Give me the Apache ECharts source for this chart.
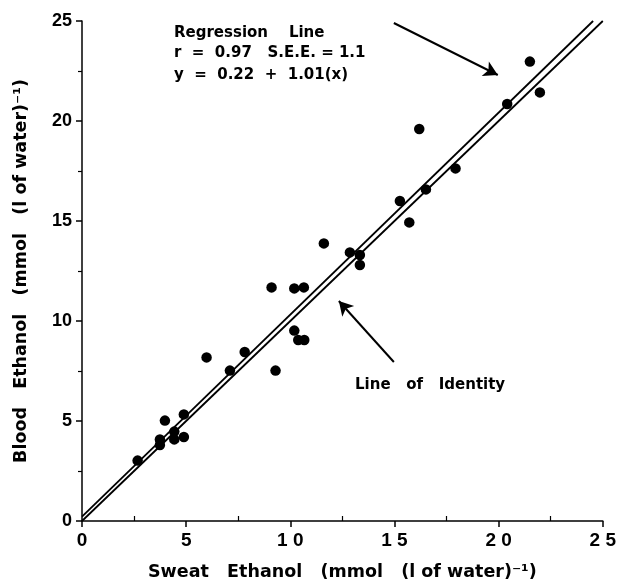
<!DOCTYPE html>
<html>
<head>
<meta charset="utf-8">
<script src="https://cdn.jsdelivr.net/npm/echarts@6/dist/echarts.min.js"></script>
<style>html,body{margin:0;padding:0;background:#fff;}#c{width:619px;height:588px;}</style>
</head>
<body>
<div id="c"></div>
<script>
// Sweat ethanol (x) and blood ethanol (y), mmol (l of water)^-1
const sweatEthanol = [2.67, 3.98, 3.74, 3.74, 4.43, 4.43, 4.89, 4.89, 5.98, 7.10, 7.81, 9.29,
  9.10, 10.19, 10.65, 10.19, 10.38, 10.67, 11.61, 12.86, 13.34, 13.34,
  15.26, 15.71, 16.51, 16.19, 17.93, 20.41, 21.50, 21.98];
const bloodEthanol = [3.02, 5.02, 4.08, 3.80, 4.47, 4.08, 4.20, 5.33, 8.18, 7.52, 8.45, 7.52,
  11.68, 11.63, 11.68, 9.52, 9.05, 9.05, 13.88, 13.43, 13.30, 12.80,
  16.00, 14.93, 16.58, 19.60, 17.63, 20.85, 22.97, 21.43];
const xTickLabels = {0: '0', 5: '5', 10: '1 0', 15: '1 5', 20: '2 0', 25: '2 5'};
const yTickLabels = {0: '0', 5: '5', 10: '10', 15: '15', 20: '20', 25: '25'};
const regIntercept = 0.22, regSlope = 1.01;
const axisMax = 25;

const points = sweatEthanol.map((x, i) => [x, bloodEthanol[i]]);
const identityLine = [[0, 0], [axisMax, axisMax]];
const regressionLine = [[0, regIntercept], [(axisMax - regIntercept) / regSlope, axisMax]];

const font = 'Liberation Sans, Arial, sans-serif';
const wide = '"DejaVu Sans", sans-serif';
const chart = echarts.init(document.getElementById('c'));
chart.setOption({
  animation: false,
  backgroundColor: '#fff',
  grid: {left: 82, right: 16, top: 21, bottom: 67},
  xAxis: {
    type: 'value', min: 0, max: 25, interval: 5,
    axisLine: {show: true, lineStyle: {color: '#000', width: 1.5}},
    axisTick: {show: true, length: 6, lineStyle: {color: '#000', width: 1.5}},
    minorTick: {show: true, splitNumber: 2, length: -5, lineStyle: {color: '#000', width: 1.2}},
    splitLine: {show: false},
    axisLabel: {margin: 10, color: '#000', fontFamily: font, fontWeight: 'bold', fontSize: 19,
      formatter: v => xTickLabels[v]},
    name: 'Sweat   Ethanol   (mmol   (l of water)⁻¹)',
    nameLocation: 'middle', nameGap: 42,
    nameTextStyle: {color: '#000', fontFamily: wide, fontWeight: 'bold', fontSize: 17.5}
  },
  yAxis: {
    type: 'value', min: 0, max: 25, interval: 5,
    axisLine: {show: true, lineStyle: {color: '#000', width: 1.5}},
    axisTick: {show: true, length: 6, lineStyle: {color: '#000', width: 1.5}},
    minorTick: {show: true, splitNumber: 2, length: 4, lineStyle: {color: '#000', width: 1.2}},
    splitLine: {show: false},
    axisLabel: {margin: 10, color: '#000', fontFamily: font, fontWeight: 'bold', fontSize: 18,
      formatter: v => yTickLabels[v]},
    name: 'Blood   Ethanol   (mmol   (l of water)⁻¹)',
    nameLocation: 'middle', nameGap: 52,
    nameTextStyle: {color: '#000', fontFamily: wide, fontWeight: 'bold', fontSize: 17.5}
  },
  series: [
    {
      type: 'line', data: identityLine, showSymbol: false, silent: true,
      lineStyle: {color: '#000', width: 1.8}
    },
    {
      type: 'line', data: regressionLine, showSymbol: false, silent: true,
      lineStyle: {color: '#000', width: 1.8}
    },
    {
      type: 'scatter', data: points, symbol: 'circle', symbolSize: 10.5,
      itemStyle: {color: '#000', opacity: 1},
      markLine: {
        silent: true, symbol: ['none', 'arrow'], symbolSize: [12, 14],
        label: {show: false},
        lineStyle: {color: '#000', width: 2, type: 'solid'},
        data: [
          [{coord: [14.97, 24.9]}, {coord: [19.96, 22.3]}],
          [{coord: [14.97, 7.95]}, {coord: [12.33, 11.0]}]
        ]
      }
    }
  ],
  graphic: [
    {type: 'text', x: 174, y: 33, style: {text: 'Regression    Line', fill: '#000',
      font: 'bold 15px ' + wide, verticalAlign: 'middle'}},
    {type: 'text', x: 174, y: 53, style: {text: 'r  =  0.97   S.E.E. = 1.1', fill: '#000',
      font: 'bold 15px ' + wide, verticalAlign: 'middle'}},
    {type: 'text', x: 174, y: 75, style: {text: 'y  =  0.22  +  1.01(x)', fill: '#000',
      font: 'bold 15px ' + wide, verticalAlign: 'middle'}},
    {type: 'text', x: 355, y: 385, style: {text: 'Line   of   Identity', fill: '#000',
      font: 'bold 15px ' + wide, verticalAlign: 'middle'}}
  ]
});
</script>
</body>
</html>
